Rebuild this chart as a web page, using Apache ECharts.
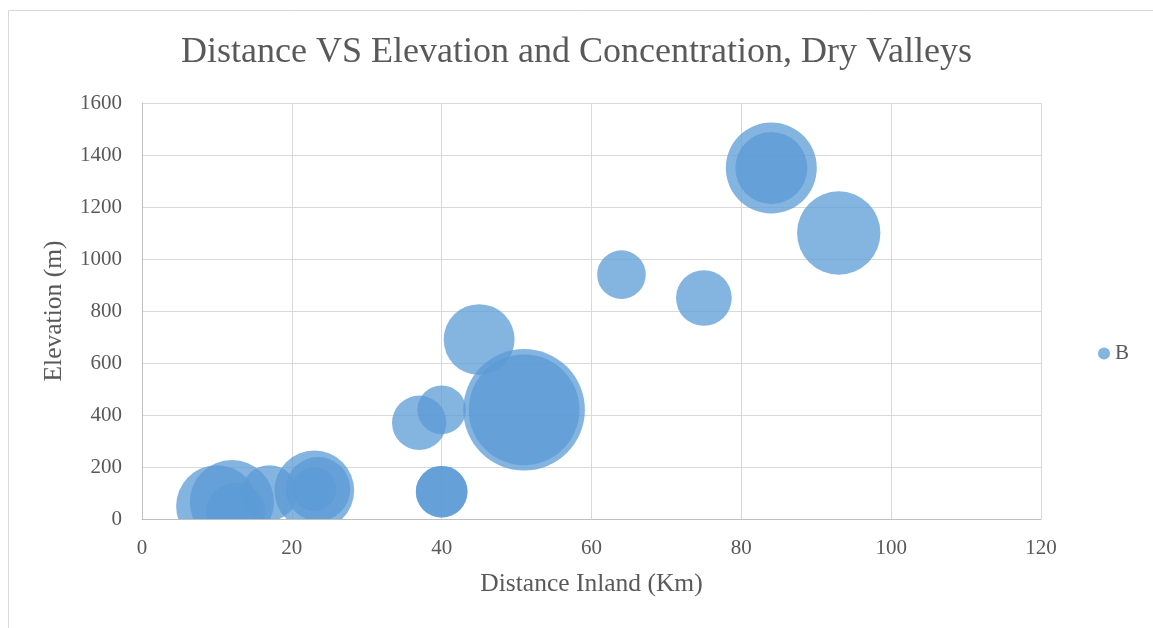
<!DOCTYPE html>
<html>
<head>
<meta charset="utf-8">
<script src="https://cdn.jsdelivr.net/npm/echarts@6/dist/echarts.min.js"></script>
<style>
html,body{margin:0;padding:0;background:#fff;}
#chart{width:1153px;height:628px;}
</style>
</head>
<body>
<div id="chart"></div>
<script>
// ---- data ----
var seriesName = 'B';
var distanceKm = [10, 12, 12.5, 17, 23, 23.5, 23, 37, 40, 40, 40, 45, 51, 51, 64, 75, 84, 84, 93];
var elevationM = [50, 65, 25, 100, 110, 115, 115, 370, 420, 105, 105, 690, 420, 420, 940, 850, 1350, 1350, 1100];
var concentration = [45, 48, 24, 21, 43, 28, 13, 20, 16, 18, 18, 34, 100, 83, 16, 21, 56, 35, 47];
var xTicks = [0, 20, 40, 60, 80, 100, 120];
var yTicks = [0, 200, 400, 600, 800, 1000, 1200, 1400, 1600];

// ---- styling ----
var FONT = '"Liberation Serif", "DejaVu Serif", serif';
var TEXT = '#595959';
var BUBBLE = 'rgba(91,155,213,0.75)';
var MAX_DIAMETER = 121.6;
var maxC = Math.max.apply(null, concentration);

var data = distanceKm.map(function (x, i) { return [x, elevationM[i], concentration[i]]; });

var chart = echarts.init(document.getElementById('chart'), null, {renderer: 'canvas'});
chart.setOption({
  backgroundColor: '#fff',
  animation: false,
  title: {
    text: 'Distance VS Elevation and Concentration, Dry Valleys',
    left: 'center', top: 30,
    textStyle: {fontFamily: FONT, fontSize: 36, fontWeight: 'normal', color: TEXT}
  },
  legend: {
    data: [{name: seriesName, icon: 'circle'}],
    orient: 'vertical',
    left: 1093, top: 338,
    itemWidth: 12, itemHeight: 12, itemGap: 4,
    textStyle: {fontFamily: FONT, fontSize: 21, color: TEXT}
  },
  grid: {left: 142, right: 112, top: 103, bottom: 109, containLabel: false},
  xAxis: {
    type: 'value', min: xTicks[0], max: xTicks[xTicks.length - 1], interval: 20,
    name: 'Distance Inland (Km)', nameLocation: 'middle', nameGap: 52,
    nameTextStyle: {fontFamily: FONT, fontSize: 25.5, color: TEXT},
    axisLine: {show: true, lineStyle: {color: '#bfbfbf', width: 1}},
    axisTick: {show: false},
    axisLabel: {fontFamily: FONT, fontSize: 21, color: TEXT, margin: 19},
    splitLine: {show: true, lineStyle: {color: '#d9d9d9', width: 1}}
  },
  yAxis: {
    type: 'value', min: yTicks[0], max: yTicks[yTicks.length - 1], interval: 200,
    name: 'Elevation (m)', nameLocation: 'middle', nameGap: 75,
    nameTextStyle: {fontFamily: FONT, fontSize: 25.5, color: TEXT},
    axisLine: {show: true, lineStyle: {color: '#bfbfbf', width: 1}},
    axisTick: {show: false},
    axisLabel: {fontFamily: FONT, fontSize: 21, color: TEXT, margin: 20,
      formatter: function (v) { return String(v); }},
    splitLine: {show: true, lineStyle: {color: '#d9d9d9', width: 1}}
  },
  graphic: [{
    type: 'rect', left: 6, top: 8, silent: true,
    shape: {width: 1200, height: 700},
    style: {fill: 'none', stroke: '#d9d9d9', lineWidth: 1}
  }],
  series: [{
    name: seriesName,
    type: 'custom',
    clip: true,
    itemStyle: {color: BUBBLE},
    encode: {x: 0, y: 1},
    data: data,
    renderItem: function (params, api) {
      var p = api.coord([api.value(0), api.value(1)]);
      var r = MAX_DIAMETER * Math.sqrt(api.value(2) / maxC) / 2;
      return {
        type: 'circle',
        shape: {cx: p[0], cy: p[1], r: r},
        style: {fill: BUBBLE}
      };
    }
  }]
});
</script>
</body>
</html>
